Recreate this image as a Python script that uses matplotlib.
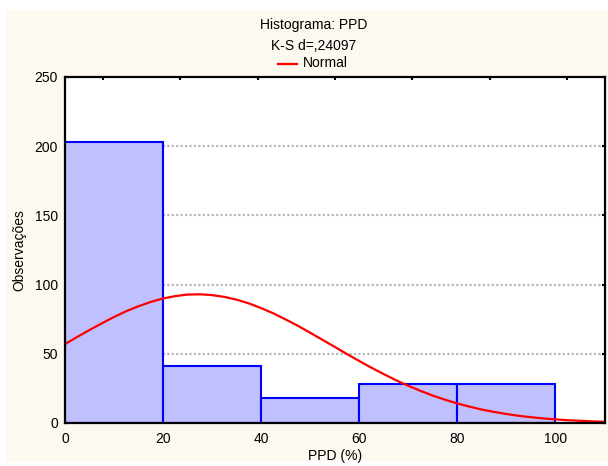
import matplotlib.pyplot as plt
from matplotlib.patches import Rectangle
from matplotlib.lines import Line2D
import numpy as np

plt.rcParams['font.family'] = ['Liberation Sans', 'DejaVu Sans']

# histogram bins and counts
bin_edges = [0, 20, 40, 60, 80, 100]
counts = [203, 41, 18, 28, 28]

# expected normal curve
curve_x = [0, 2.5, 5, 7.5, 10, 12.5, 15, 17.5, 20, 22.5, 25, 27.5, 30, 32.5, 35, 37.5,
           40, 42.5, 45, 47.5, 50, 52.5, 55, 57.5, 60, 62.5, 65, 67.5, 70, 72.5, 75,
           77.5, 80, 82.5, 85, 87.5, 90, 92.5, 95, 97.5, 100, 102.5, 105, 107.5, 110]
curve_y = [57.0, 62.2, 67.2, 72.0, 76.6, 80.8, 84.4, 87.5, 90.0, 91.7, 92.8, 93.0, 92.4,
           91.1, 89.1, 86.4, 83.0, 79.2, 74.8, 70.2, 65.2, 60.1, 55.0, 49.8, 44.8, 39.9,
           35.3, 30.9, 26.9, 23.2, 19.8, 16.8, 14.1, 11.8, 9.7, 8.0, 6.5, 5.2, 4.2, 3.3,
           2.6, 2.0, 1.6, 1.2, 0.9]

x_ticks = [0, 20, 40, 60, 80, 100]
y_ticks = [0, 50, 100, 150, 200, 250]
top_ticks = [7.7, 23.5, 39.3, 55.0, 70.8, 86.6, 102.3]

W, H = 608, 466
fig = plt.figure(figsize=(W / 100, H / 100), dpi=100)
fig.patch.set_facecolor('white')
# cream panel behind everything
fig.patches.append(Rectangle((5 / W, 4 / H), 603 / W, 452 / H,
                             transform=fig.transFigure, facecolor='#fdf9f0',
                             edgecolor='none', zorder=-10))

ax = fig.add_axes([65 / W, 43 / H, 539.5 / W, 346 / H])
ax.set_facecolor('white')

# gridlines
for y in y_ticks[1:-1]:
    ax.axhline(y, color='#b8b8b8', lw=1.6, linestyle=(0, (1, 1)), zorder=1)

widths = np.diff(bin_edges)
ax.bar(bin_edges[:-1], counts, width=widths, align='edge',
       facecolor='#c0c0ff', edgecolor='#0000ff', linewidth=1.5, zorder=2)

ax.plot(curve_x, curve_y, color='#ff0000', lw=1.6, zorder=3)

ax.set_xlim(0, 110)
ax.set_ylim(0, 250)
ax.set_xticks(x_ticks)
ax.set_yticks(y_ticks)

for s in ax.spines.values():
    s.set_linewidth(1.6)
    s.set_color('black')
    s.set_zorder(5)

ax.tick_params(axis='x', bottom=False, labelsize=10, pad=3)
ax.tick_params(axis='y', direction='in', left=True, right=True, length=2.5,
               width=1.5, labelsize=10, pad=5)

secax = ax.secondary_xaxis('top')
secax.set_xticks(top_ticks)
secax.tick_params(direction='in', length=2.5, width=1.5, labeltop=False)
secax.spines['top'].set_visible(False)

ax.set_xlabel('PPD (%)', fontsize=10, labelpad=2)
ax.set_ylabel('Observações', fontsize=10, labelpad=6)

fig.text(314 / W, 1 - 29.5 / H, 'Histograma: PPD', ha='center', va='baseline', fontsize=10)
fig.text(314 / W, 1 - 50 / H, 'K-S d=,24097', ha='center', va='baseline', fontsize=10)
# legend entry for the normal curve
fig.add_artist(Line2D([278 / W, 297 / W], [1 - 63.5 / H, 1 - 63.5 / H],
                      transform=fig.transFigure, color='#ff0000', lw=1.6))
fig.text(303 / W, 1 - 67 / H, 'Normal', ha='left', va='baseline', fontsize=10)

plt.savefig('out.png', dpi=100, facecolor=fig.get_facecolor())
